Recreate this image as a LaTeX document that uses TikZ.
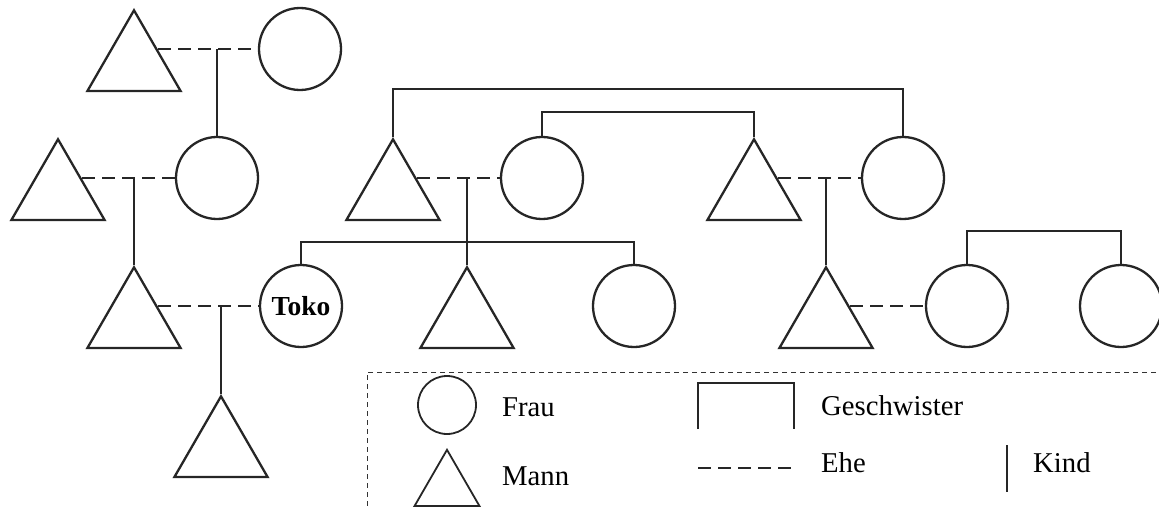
\documentclass[tikz,border=0pt]{standalone}
\usepackage{fontspec}
\setmainfont{Liberation Serif}
\usetikzlibrary{shapes.geometric}
\begin{document}
\begin{tikzpicture}[x=1pt,y=-1pt,
  ln/.style={line width=2.3pt, draw=black!85},
  frau/.style={circle, ln, inner sep=0pt, minimum size=82pt},
  mann/.style={regular polygon, regular polygon sides=3, ln, inner sep=0pt, minimum size=107.5pt, anchor=corner 1},
  ehe/.style={ln, dash pattern=on 13pt off 7pt},
  kind/.style={ln},
  lbl/.style={inner sep=0pt, anchor=base west, font=\fontsize{28.7}{34}\selectfont}
]
\useasboundingbox (0,0) rectangle (1159,508);

% generation 1
\node[mann] (t1) at (134,8) {};
\node[frau] (c1) at (300,49) {};
% generation 2
\node[mann] (t2) at (58,137) {};
\node[frau] (c2) at (217,178) {};
\node[mann] (t3) at (393,137) {};
\node[frau] (c3) at (542,178) {};
\node[mann] (t4) at (754,137) {};
\node[frau] (c4) at (903,178) {};
% generation 3
\node[mann] (t5) at (134,265) {};
\node[frau, font=\bfseries\fontsize{27.5}{32}\selectfont] (toko) at (301,306) {Toko};
\node[mann] (t6) at (467,265) {};
\node[frau] (c6) at (634,306) {};
\node[mann] (t7) at (826,265) {};
\node[frau] (c7) at (967,306) {};
\node[frau] (c8) at (1121,306) {};
% generation 4
\node[mann] (t8) at (221,394) {};

% marriages
\draw[ehe] (c1.west -| t1.side 3) -- (c1.west);
\draw[ehe] (c2.west -| t2.side 3) -- (c2.west);
\draw[ehe] (c3.west -| t3.side 3) -- (c3.west);
\draw[ehe] (c4.west -| t4.side 3) -- (c4.west);
\draw[ehe] (toko.west -| t5.side 3) -- (toko.west);
\draw[ehe] (c7.west -| t7.side 3) -- (c7.west);

% children
\draw[kind] (c2.north) -- (c2.north |- c1.west);
\draw[kind] (t5.corner 1) -- (t5.corner 1 |- c2.west);
\draw[kind] (t8.corner 1) -- (t8.corner 1 |- toko.west);
\draw[kind] (t6.corner 1) -- (t6.corner 1 |- c3.west);
\draw[kind] (t7.corner 1) -- (t7.corner 1 |- c4.west);

% siblings
\draw[kind] (t3.corner 1) -- ++(0,-48) -| (c4.north);
\draw[kind] (c3.north) -- ++(0,-24) -| (t4.corner 1);
\draw[kind] (toko.north) -- ++(0,-22) -| (c6.north);
\draw[kind] (c7.north) -- ++(0,-33) -| (c8.north);

% legend
\draw[black!80, line width=1pt, dash pattern=on 5pt off 4pt] (1165,372) -- (367,372) -- (367,515);
\node[frau, minimum size=58pt, line width=1.8pt] (lf) at (447,405) {};
\node[mann, minimum size=75pt, line width=1.8pt] (lm) at (447,448) {};
\node[lbl] (lfrau) at (502,416) {Frau};
\node[lbl] (lmann) at (502,485) {Mann};
\draw[ln, line width=1.8pt] (698,429) -- (698,383) -- (794,383) -- (794,429);
\node[lbl] (lgesch) at (821,415) {Geschwister};
\draw[ehe, line width=1.8pt] (698,468) -- (794,468);
\node[lbl] (lehe) at (821,472) {Ehe};
\draw[kind, line width=1.8pt] (1007,445) -- (1007,492);
\node[lbl] (lkind) at (1033,472) {Kind};
\end{tikzpicture}
\end{document}
